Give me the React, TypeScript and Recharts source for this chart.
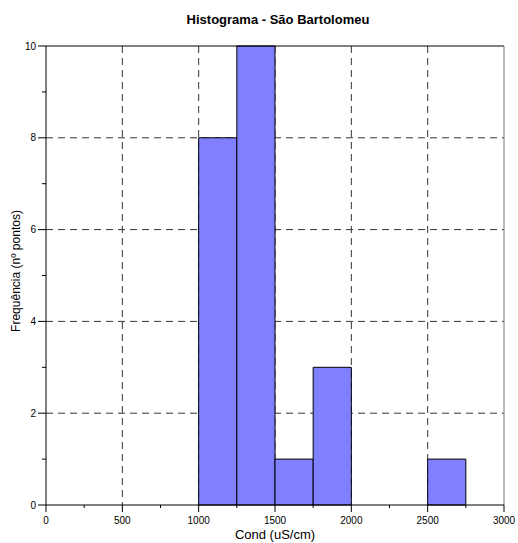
import {
  ComposedChart,
  CartesianGrid,
  XAxis,
  YAxis,
  ReferenceArea,
  ReferenceLine,
  Line,
} from 'recharts'

// histogram bins (uS/cm) and counts
const binStart = [1000, 1250, 1500, 1750, 2500]
const binEnd = [1250, 1500, 1750, 2000, 2750]
const counts = [8, 10, 1, 3, 1]

const xTicks = [0, 250, 500, 750, 1000, 1250, 1500, 1750, 2000, 2250, 2500, 2750, 3000]
const xLabelled = [0, 500, 1000, 1500, 2000, 2500, 3000]
const yTicks = [0, 1, 2, 3, 4, 5, 6, 7, 8, 9, 10]
const yLabelled = [0, 2, 4, 6, 8, 10]
const gridX = [500, 1000, 1500, 2000, 2500]
const gridY = [2, 4, 6, 8]

const FONT = 'Arial, "Liberation Sans", sans-serif'
const W = 518
const H = 543

const data = binStart.map((s, i) => ({ x: (s + binEnd[i]) / 2, count: counts[i] }))

function XTick({ x, y, payload }: any) {
  const major = xLabelled.includes(payload.value)
  return (
    <g>
      <line x1={x} y1={y} x2={x} y2={y + (major ? 7 : 3)} stroke="#000" />
      {major && (
        <text x={x} y={y + 18.5} textAnchor="middle" fontSize={10} fontFamily={FONT} fill="#000">
          {payload.value}
        </text>
      )}
    </g>
  )
}

function YTick({ x, y, payload }: any) {
  const major = yLabelled.includes(payload.value)
  return (
    <g>
      <line x1={x - (major ? 8 : 4)} y1={y} x2={x} y2={y} stroke="#000" />
      {major && (
        <text x={x - 10} y={y + 3.5} textAnchor="end" fontSize={10} fontFamily={FONT} fill="#000">
          {payload.value}
        </text>
      )}
    </g>
  )
}

export default function App() {
  return (
    <div style={{ position: 'absolute', left: 0, top: 0, width: W, height: H, background: '#fff' }}>
      <div
        style={{
          position: 'absolute',
          left: 50,
          width: 456,
          top: 12,
          textAlign: 'center',
          fontFamily: FONT,
          fontWeight: 'bold',
          fontSize: 13,
          lineHeight: '16px',
        }}
      >
        Histograma - São Bartolomeu
      </div>
      <div
        style={{
          position: 'absolute',
          left: 46,
          width: 458,
          top: 527,
          textAlign: 'center',
          fontFamily: FONT,
          fontSize: 13,
          lineHeight: '16px',
        }}
      >
        Cond (uS/cm)
      </div>
      <div
        style={{
          position: 'absolute',
          left: 16 - 80,
          width: 160,
          top: 271 - 8,
          textAlign: 'center',
          fontFamily: FONT,
          fontSize: 12,
          lineHeight: '16px',
          transform: 'rotate(-90deg)',
        }}
      >
        Frequência (nº pontos)
      </div>
      <ComposedChart
        width={W}
        height={H}
        data={data}
        margin={{ top: 46, right: 14, left: 0, bottom: 0 }}
        style={{ position: 'absolute', left: 0, top: 0 }}
      >
        <CartesianGrid
          stroke="#333"
          strokeDasharray="7 5"
          verticalValues={gridX}
          horizontalValues={gridY}
        />
        <XAxis
          type="number"
          dataKey="x"
          domain={[0, 3000]}
          ticks={xTicks}
          interval={0}
          height={38}
          tickSize={0}
          tickMargin={0}
          tickLine={false}
          axisLine={{ stroke: '#000' }}
          tick={<XTick />}
        />
        <YAxis
          type="number"
          domain={[0, 10]}
          ticks={yTicks}
          interval={0}
          width={46}
          tickSize={0}
          tickMargin={0}
          tickLine={false}
          axisLine={{ stroke: '#000' }}
          tick={<YTick />}
        />
        {binStart.map((s, i) => (
          <ReferenceArea
            key={s}
            x1={s}
            x2={binEnd[i]}
            y1={0}
            y2={counts[i]}
            fill="#8080ff"
            fillOpacity={1}
            stroke="#000"
            strokeWidth={1}
          />
        ))}
        <ReferenceLine y={10} stroke="#000" />
        <ReferenceLine x={3000} stroke="#777" />
        <Line dataKey="count" stroke="none" dot={false} isAnimationActive={false} />
      </ComposedChart>
    </div>
  )
}
